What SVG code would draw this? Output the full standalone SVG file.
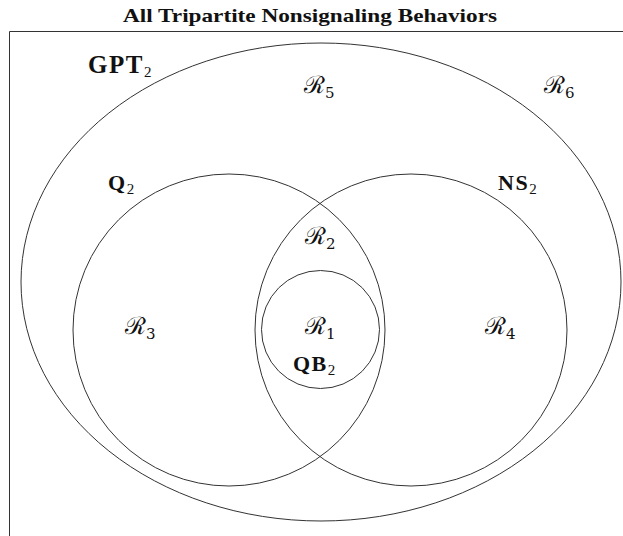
<svg xmlns="http://www.w3.org/2000/svg" width="623" height="536" viewBox="0 0 623 536">
<style>
.sh{fill:none;stroke:#333;stroke-width:1}
.t{font-family:"Liberation Serif","DejaVu Serif",serif;fill:#111}
.b{font-weight:bold;font-size:22px;letter-spacing:1.5px}
.g{font-size:25px}
.r{font-family:"DejaVu Serif","Liberation Serif",serif;font-size:24px;fill:#111}
.s{font-size:15px;font-weight:normal;letter-spacing:0}
</style>
<rect width="623" height="536" fill="#fff"/>
<text class="t" x="310" y="22" text-anchor="middle" font-size="19" font-weight="bold" textLength="374" lengthAdjust="spacingAndGlyphs">All Tripartite Nonsignaling Behaviors</text>
<g id="frame"><path class="sh" d="M9.5 536V31.5H623"/></g>
<g id="gpt"><ellipse class="sh" cx="321" cy="282" rx="300" ry="239"/>
<text class="t b g" x="88" y="73">GPT<tspan class="s" dy="4">2</tspan></text></g>
<g id="q"><circle class="sh" cx="229" cy="330" r="156"/>
<text class="t b" x="108" y="190">Q<tspan class="s" dy="4">2</tspan></text></g>
<g id="ns"><circle class="sh" cx="411" cy="330" r="156"/>
<text class="t b" x="498" y="190">NS<tspan class="s" dy="4">2</tspan></text></g>
<g id="qb"><circle class="sh" cx="320.5" cy="329.5" r="59"/>
<text class="t b" x="293" y="371">QB<tspan class="s" dy="4">2</tspan></text></g>
<g id="labels">
<text class="r" x="304" y="93">ℛ<tspan class="s" dy="5">5</tspan></text>
<text class="r" x="544" y="93">ℛ<tspan class="s" dy="5">6</tspan></text>
<text class="r" x="305" y="244">ℛ<tspan class="s" dy="5">2</tspan></text>
<text class="r" x="125" y="334">ℛ<tspan class="s" dy="5">3</tspan></text>
<text class="r" x="305" y="334">ℛ<tspan class="s" dy="5">1</tspan></text>
<text class="r" x="485" y="334">ℛ<tspan class="s" dy="5">4</tspan></text>
</g>
</svg>
